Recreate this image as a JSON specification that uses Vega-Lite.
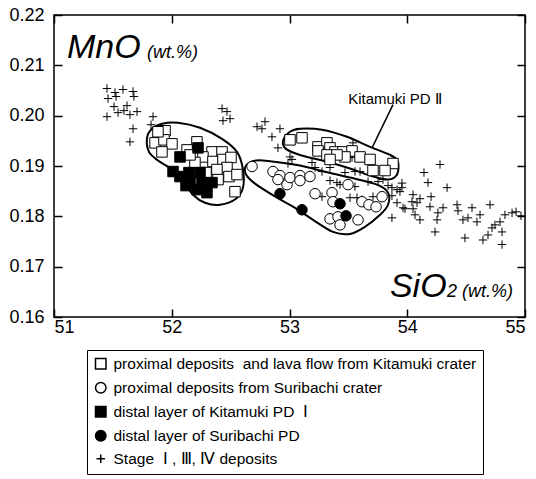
{
  "$schema": "https://vega.github.io/schema/vega-lite/v6.json",
  "width": 471,
  "height": 302,
  "autosize": {"type": "none"},
  "padding": {"left": 54, "top": 15, "right": 11, "bottom": 162},
  "background": "white",
  "config": {
    "view": {"stroke": "black", "strokeWidth": 1.5},
    "font": "Liberation Sans",
    "axis": {"grid": false, "domain": false, "tickColor": "black", "tickWidth": 1.5, "labelColor": "black", "labelFont": "Liberation Sans", "labelFontSize": 18, "title": null}
  },
  "resolve": {"axis": {"x": "independent", "y": "independent"}},
  "layer": [
    {
      "data": {"values": [
        {"g": "K", "i": 0, "x": 51.790, "y": 0.1956}, {"g": "K", "i": 1, "x": 51.832, "y": 0.1974}, {"g": "K", "i": 2, "x": 51.917, "y": 0.1984}, {"g": "K", "i": 3, "x": 52.053, "y": 0.1986}, {"g": "K", "i": 4, "x": 52.240, "y": 0.1976}, {"g": "K", "i": 5, "x": 52.427, "y": 0.1954}, {"g": "K", "i": 6, "x": 52.554, "y": 0.1928}, {"g": "K", "i": 7, "x": 52.605, "y": 0.1893}, {"g": "K", "i": 8, "x": 52.605, "y": 0.1857}, {"g": "K", "i": 9, "x": 52.546, "y": 0.1835}, {"g": "K", "i": 10, "x": 52.410, "y": 0.1823}, {"g": "K", "i": 11, "x": 52.282, "y": 0.1827}, {"g": "K", "i": 12, "x": 52.180, "y": 0.1843}, {"g": "K", "i": 13, "x": 52.096, "y": 0.1869}, {"g": "K", "i": 14, "x": 52.002, "y": 0.1893}, {"g": "K", "i": 15, "x": 51.883, "y": 0.1911}, {"g": "K", "i": 16, "x": 51.807, "y": 0.1928},
        {"g": "P", "i": 0, "x": 52.945, "y": 0.1950}, {"g": "P", "i": 1, "x": 53.004, "y": 0.1968}, {"g": "P", "i": 2, "x": 53.089, "y": 0.1974}, {"g": "P", "i": 3, "x": 53.276, "y": 0.1972}, {"g": "P", "i": 4, "x": 53.488, "y": 0.1958}, {"g": "P", "i": 5, "x": 53.684, "y": 0.1938}, {"g": "P", "i": 6, "x": 53.854, "y": 0.1922}, {"g": "P", "i": 7, "x": 53.921, "y": 0.1909}, {"g": "P", "i": 8, "x": 53.913, "y": 0.1883}, {"g": "P", "i": 9, "x": 53.837, "y": 0.1873}, {"g": "P", "i": 10, "x": 53.684, "y": 0.1881}, {"g": "P", "i": 11, "x": 53.514, "y": 0.1895}, {"g": "P", "i": 12, "x": 53.344, "y": 0.1907}, {"g": "P", "i": 13, "x": 53.089, "y": 0.1922}, {"g": "P", "i": 14, "x": 52.970, "y": 0.1934},
        {"g": "S", "i": 0, "x": 52.631, "y": 0.1901}, {"g": "S", "i": 1, "x": 52.716, "y": 0.1911}, {"g": "S", "i": 2, "x": 52.851, "y": 0.1909}, {"g": "S", "i": 3, "x": 53.089, "y": 0.1901}, {"g": "S", "i": 4, "x": 53.259, "y": 0.1891}, {"g": "S", "i": 5, "x": 53.514, "y": 0.1877}, {"g": "S", "i": 6, "x": 53.743, "y": 0.1863}, {"g": "S", "i": 7, "x": 53.837, "y": 0.1847}, {"g": "S", "i": 8, "x": 53.837, "y": 0.1823}, {"g": "S", "i": 9, "x": 53.769, "y": 0.1803}, {"g": "S", "i": 10, "x": 53.641, "y": 0.1779}, {"g": "S", "i": 11, "x": 53.514, "y": 0.1765}, {"g": "S", "i": 12, "x": 53.369, "y": 0.1769}, {"g": "S", "i": 13, "x": 53.200, "y": 0.1793}, {"g": "S", "i": 14, "x": 53.047, "y": 0.1817}, {"g": "S", "i": 15, "x": 52.894, "y": 0.1837}, {"g": "S", "i": 16, "x": 52.707, "y": 0.1865}, {"g": "S", "i": 17, "x": 52.631, "y": 0.1883}
      ]},
      "mark": {"type": "line", "interpolate": "cardinal-closed", "stroke": "black", "strokeWidth": 2},
      "encoding": {
        "x": {"field": "x", "type": "quantitative", "scale": {"domain": [51, 55], "nice": false, "zero": false}, "axis": {"orient": "top", "values": [51, 52, 53, 54, 55], "labels": false, "ticks": true, "tickSize": -8}},
        "y": {"field": "y", "type": "quantitative", "scale": {"domain": [0.16, 0.22], "nice": false, "zero": false}, "axis": {"orient": "right", "values": [0.16, 0.17, 0.18, 0.19, 0.2, 0.21, 0.22], "labels": false, "ticks": true, "tickSize": -8}},
        "detail": {"field": "g"},
        "order": {"field": "i", "type": "quantitative"}
      }
    },
    {
      "data": {"values": [{"x": 53.879, "y": 0.2022, "x2": 53.701, "y2": 0.1936}]},
      "mark": {"type": "rule", "stroke": "black", "strokeWidth": 1.5},
      "encoding": {
        "x": {"field": "x", "type": "quantitative", "axis": null},
        "y": {"field": "y", "type": "quantitative", "axis": null},
        "x2": {"field": "x2"},
        "y2": {"field": "y2"}
      }
    },
    {
      "data": {"values": [
        {"t": "St", "x": 51.450, "y": 0.2054}, {"t": "St", "x": 51.518, "y": 0.2046}, {"t": "St", "x": 51.586, "y": 0.2052}, {"t": "St", "x": 51.671, "y": 0.2048}, {"t": "St", "x": 51.459, "y": 0.2034}, {"t": "St", "x": 51.527, "y": 0.2038}, {"t": "St", "x": 51.679, "y": 0.2038}, {"t": "St", "x": 51.510, "y": 0.2018}, {"t": "St", "x": 51.620, "y": 0.2020}, {"t": "St", "x": 51.450, "y": 0.1998}, {"t": "St", "x": 51.544, "y": 0.2006}, {"t": "St", "x": 51.645, "y": 0.2002}, {"t": "St", "x": 51.705, "y": 0.2008}, {"t": "St", "x": 51.594, "y": 0.2010}, {"t": "St", "x": 51.841, "y": 0.1998}, {"t": "St", "x": 51.671, "y": 0.1974}, {"t": "St", "x": 51.824, "y": 0.1982}, {"t": "St", "x": 51.645, "y": 0.1948}, {"t": "St", "x": 52.427, "y": 0.2014}, {"t": "St", "x": 52.469, "y": 0.2008}, {"t": "St", "x": 52.435, "y": 0.1990}, {"t": "St", "x": 52.495, "y": 0.1994}, {"t": "St", "x": 52.724, "y": 0.1978},
        {"t": "St", "x": 52.792, "y": 0.1988}, {"t": "St", "x": 52.766, "y": 0.1974}, {"t": "St", "x": 52.851, "y": 0.1958}, {"t": "St", "x": 52.919, "y": 0.1974}, {"t": "St", "x": 52.902, "y": 0.1936}, {"t": "St", "x": 53.004, "y": 0.1918}, {"t": "St", "x": 53.021, "y": 0.1913}, {"t": "St", "x": 52.987, "y": 0.1905}, {"t": "St", "x": 53.191, "y": 0.1907}, {"t": "St", "x": 53.217, "y": 0.1897}, {"t": "St", "x": 53.276, "y": 0.1889}, {"t": "St", "x": 53.344, "y": 0.1897}, {"t": "St", "x": 53.344, "y": 0.1871}, {"t": "St", "x": 53.403, "y": 0.1867}, {"t": "St", "x": 53.429, "y": 0.1863}, {"t": "St", "x": 53.471, "y": 0.1887}, {"t": "St", "x": 53.531, "y": 0.1917}, {"t": "St", "x": 53.539, "y": 0.1946}, {"t": "St", "x": 53.556, "y": 0.1889}, {"t": "St", "x": 53.556, "y": 0.1859}, {"t": "St", "x": 53.514, "y": 0.1837}, {"t": "St", "x": 53.573, "y": 0.1837}, {"t": "St", "x": 53.616, "y": 0.1833}, {"t": "St", "x": 53.667, "y": 0.1869}, {"t": "St", "x": 53.709, "y": 0.1839}, {"t": "St", "x": 53.752, "y": 0.1869}, {"t": "St", "x": 53.794, "y": 0.1873}, {"t": "St", "x": 53.837, "y": 0.1861}, {"t": "St", "x": 53.870, "y": 0.1857}, {"t": "St", "x": 53.913, "y": 0.1853}, {"t": "St", "x": 53.955, "y": 0.1857}, {"t": "St", "x": 53.870, "y": 0.1841}, {"t": "St", "x": 53.913, "y": 0.1827}, {"t": "St", "x": 53.964, "y": 0.1817}, {"t": "St", "x": 53.870, "y": 0.1797}, {"t": "St", "x": 53.276, "y": 0.1839}, {"t": "St", "x": 53.599, "y": 0.1889},
        {"t": "St", "x": 54.278, "y": 0.1903}, {"t": "St", "x": 54.142, "y": 0.1887}, {"t": "St", "x": 54.176, "y": 0.1867}, {"t": "St", "x": 54.338, "y": 0.1857}, {"t": "St", "x": 53.955, "y": 0.1866}, {"t": "St", "x": 53.938, "y": 0.1849}, {"t": "St", "x": 54.049, "y": 0.1843}, {"t": "St", "x": 54.202, "y": 0.1839}, {"t": "St", "x": 54.108, "y": 0.1835}, {"t": "St", "x": 54.040, "y": 0.1829}, {"t": "St", "x": 54.083, "y": 0.1827}, {"t": "St", "x": 53.981, "y": 0.1815}, {"t": "St", "x": 54.049, "y": 0.1815}, {"t": "St", "x": 54.193, "y": 0.1819}, {"t": "St", "x": 54.261, "y": 0.1807}, {"t": "St", "x": 54.304, "y": 0.1817}, {"t": "St", "x": 54.066, "y": 0.1803}, {"t": "St", "x": 54.108, "y": 0.1793}, {"t": "St", "x": 54.253, "y": 0.1793}, {"t": "St", "x": 54.236, "y": 0.1769}, {"t": "St", "x": 54.423, "y": 0.1823}, {"t": "St", "x": 54.431, "y": 0.1811}, {"t": "St", "x": 54.550, "y": 0.1817}, {"t": "St", "x": 54.473, "y": 0.1793}, {"t": "St", "x": 54.516, "y": 0.1797}, {"t": "St", "x": 54.592, "y": 0.1789}, {"t": "St", "x": 54.618, "y": 0.1803}, {"t": "St", "x": 54.703, "y": 0.1823}, {"t": "St", "x": 54.490, "y": 0.1757}, {"t": "St", "x": 54.643, "y": 0.1753}, {"t": "St", "x": 54.686, "y": 0.1763}, {"t": "St", "x": 54.720, "y": 0.1777}, {"t": "St", "x": 54.745, "y": 0.1783}, {"t": "St", "x": 54.788, "y": 0.1789}, {"t": "St", "x": 54.830, "y": 0.1803}, {"t": "St", "x": 54.890, "y": 0.1807}, {"t": "St", "x": 54.805, "y": 0.1769}, {"t": "St", "x": 54.805, "y": 0.1744}, {"t": "St", "x": 54.924, "y": 0.1809}, {"t": "St", "x": 54.966, "y": 0.1801},
        {"t": "K", "x": 51.943, "y": 0.1970}, {"t": "K", "x": 51.858, "y": 0.1946}, {"t": "K", "x": 51.934, "y": 0.1952}, {"t": "K", "x": 52.002, "y": 0.1944}, {"t": "K", "x": 51.917, "y": 0.1928}, {"t": "K", "x": 52.214, "y": 0.1948}, {"t": "K", "x": 52.130, "y": 0.1932}, {"t": "K", "x": 52.342, "y": 0.1928}, {"t": "K", "x": 52.427, "y": 0.1928}, {"t": "K", "x": 52.265, "y": 0.1918}, {"t": "K", "x": 52.197, "y": 0.1907}, {"t": "K", "x": 52.350, "y": 0.1909}, {"t": "K", "x": 52.435, "y": 0.1913}, {"t": "K", "x": 52.503, "y": 0.1917}, {"t": "K", "x": 52.469, "y": 0.1897}, {"t": "K", "x": 52.384, "y": 0.1893}, {"t": "K", "x": 52.291, "y": 0.1887}, {"t": "K", "x": 52.486, "y": 0.1879}, {"t": "K", "x": 52.554, "y": 0.1883}, {"t": "K", "x": 52.393, "y": 0.1873}, {"t": "K", "x": 52.537, "y": 0.1849}, {"t": "K", "x": 52.155, "y": 0.1922}, {"t": "K", "x": 51.883, "y": 0.1968},
        {"t": "K", "x": 53.004, "y": 0.1952}, {"t": "K", "x": 53.106, "y": 0.1956}, {"t": "K", "x": 53.242, "y": 0.1938}, {"t": "K", "x": 53.318, "y": 0.1946}, {"t": "K", "x": 53.242, "y": 0.1930}, {"t": "K", "x": 53.344, "y": 0.1936}, {"t": "K", "x": 53.386, "y": 0.1928}, {"t": "K", "x": 53.318, "y": 0.1922}, {"t": "K", "x": 53.454, "y": 0.1928}, {"t": "K", "x": 53.531, "y": 0.1930}, {"t": "K", "x": 53.471, "y": 0.1918}, {"t": "K", "x": 53.599, "y": 0.1918}, {"t": "K", "x": 53.684, "y": 0.1913}, {"t": "K", "x": 53.403, "y": 0.1922}, {"t": "K", "x": 53.344, "y": 0.1913}, {"t": "K", "x": 53.879, "y": 0.1905}, {"t": "K", "x": 53.709, "y": 0.1891}, {"t": "K", "x": 53.811, "y": 0.1891},
        {"t": "S", "x": 52.682, "y": 0.1899}, {"t": "S", "x": 52.860, "y": 0.1889}, {"t": "S", "x": 52.919, "y": 0.1881}, {"t": "S", "x": 52.902, "y": 0.1873}, {"t": "S", "x": 52.979, "y": 0.1863}, {"t": "S", "x": 53.004, "y": 0.1877}, {"t": "S", "x": 53.089, "y": 0.1881}, {"t": "S", "x": 53.089, "y": 0.1871}, {"t": "S", "x": 53.174, "y": 0.1879}, {"t": "S", "x": 53.217, "y": 0.1845}, {"t": "S", "x": 53.361, "y": 0.1847}, {"t": "S", "x": 53.369, "y": 0.1829}, {"t": "S", "x": 53.497, "y": 0.1863}, {"t": "S", "x": 53.616, "y": 0.1829}, {"t": "S", "x": 53.675, "y": 0.1823}, {"t": "S", "x": 53.735, "y": 0.1819}, {"t": "S", "x": 53.786, "y": 0.1839}, {"t": "S", "x": 53.344, "y": 0.1795}, {"t": "S", "x": 53.412, "y": 0.1799}, {"t": "S", "x": 53.429, "y": 0.1783}, {"t": "S", "x": 53.582, "y": 0.1793},
        {"t": "KD", "x": 52.223, "y": 0.1936}, {"t": "KD", "x": 52.070, "y": 0.1918}, {"t": "KD", "x": 52.011, "y": 0.1889}, {"t": "KD", "x": 52.070, "y": 0.1879}, {"t": "KD", "x": 52.146, "y": 0.1887}, {"t": "KD", "x": 52.240, "y": 0.1887}, {"t": "KD", "x": 52.155, "y": 0.1869}, {"t": "KD", "x": 52.257, "y": 0.1867}, {"t": "KD", "x": 52.214, "y": 0.1853}, {"t": "KD", "x": 52.299, "y": 0.1847}, {"t": "KD", "x": 52.342, "y": 0.1867}, {"t": "KD", "x": 52.121, "y": 0.1861},
        {"t": "SD", "x": 52.919, "y": 0.1845}, {"t": "SD", "x": 53.106, "y": 0.1813}, {"t": "SD", "x": 53.429, "y": 0.1825}, {"t": "SD", "x": 53.480, "y": 0.1801}
      ]},
      "mark": {"type": "point", "filled": true, "stroke": "black", "strokeWidth": 1, "opacity": 1, "size": 110},
      "encoding": {
        "x": {"field": "x", "type": "quantitative", "axis": {"orient": "bottom", "values": [51, 52, 53, 54, 55], "format": "d", "ticks": true, "tickSize": -8, "labelPadding": 9}},
        "y": {"field": "y", "type": "quantitative", "axis": {"orient": "left", "values": [0.16, 0.17, 0.18, 0.19, 0.2, 0.21, 0.22], "format": ".2f", "ticks": true, "tickSize": -8, "labelPadding": 18}},
        "shape": {"field": "t", "type": "nominal", "scale": {"domain": ["K", "S", "KD", "SD", "St"], "range": ["square", "circle", "square", "circle", "M-0.8,0H0.8M0,-0.8V0.8"]}, "legend": {
          "orient": "none", "legendX": 33, "legendY": 335, "title": null, "strokeColor": "black", "padding": 6, "labelFontSize": 15.5, "labelFont": "Liberation Sans", "labelColor": "black", "symbolSize": 110, "rowPadding": 6, "labelOffset": 5, "labelLimit": 0,
          "encode": {"symbols": {"update": {"stroke": {"value": "black"}, "strokeWidth": {"value": 1}, "opacity": {"value": 1}}}},
          "labelExpr": "datum.value == 'K' ? 'proximal deposits \u00a0and lava flow from Kitamuki crater\u00a0\u00a0\u00a0\u00a0' : datum.value == 'S' ? 'proximal deposits from Suribachi crater' : datum.value == 'KD' ? 'distal layer of Kitamuki PD \u00a0Ⅰ' : datum.value == 'SD' ? 'distal layer of Suribachi PD' : 'Stage \u00a0Ⅰ , Ⅲ, Ⅳ deposits'"}},
        "fill": {"field": "t", "type": "nominal", "scale": {"domain": ["K", "S", "KD", "SD", "St"], "range": ["white", "white", "black", "black", "transparent"]}, "legend": {
          "orient": "none", "legendX": 33, "legendY": 335, "title": null, "strokeColor": "black", "padding": 6, "labelFontSize": 15.5, "labelFont": "Liberation Sans", "labelColor": "black", "symbolSize": 110, "rowPadding": 6, "labelOffset": 5, "labelLimit": 0,
          "encode": {"symbols": {"update": {"stroke": {"value": "black"}, "strokeWidth": {"value": 1}, "opacity": {"value": 1}}}},
          "labelExpr": "datum.value == 'K' ? 'proximal deposits \u00a0and lava flow from Kitamuki crater\u00a0\u00a0\u00a0\u00a0' : datum.value == 'S' ? 'proximal deposits from Suribachi crater' : datum.value == 'KD' ? 'distal layer of Kitamuki PD \u00a0Ⅰ' : datum.value == 'SD' ? 'distal layer of Suribachi PD' : 'Stage \u00a0Ⅰ , Ⅲ, Ⅳ deposits'"}}
      }
    },
    {
      "data": {"values": [{"x": 51.11, "y": 0.2115, "label": "MnO"}, {"x": 53.853, "y": 0.1640, "label": "SiO"}]},
      "mark": {"type": "text", "align": "left", "baseline": "alphabetic", "fontSize": 34, "fontStyle": "italic", "font": "Liberation Sans", "color": "black"},
      "encoding": {
        "x": {"field": "x", "type": "quantitative", "axis": null},
        "y": {"field": "y", "type": "quantitative", "axis": null},
        "text": {"field": "label"}
      }
    },
    {
      "data": {"values": [{"x": 51.790, "y": 0.2115, "label": "(wt.%)"}, {"x": 54.338, "y": 0.1640, "label": "2 (wt.%)"}]},
      "mark": {"type": "text", "align": "left", "baseline": "alphabetic", "fontSize": 18, "fontStyle": "italic", "font": "Liberation Sans", "color": "black"},
      "encoding": {
        "x": {"field": "x", "type": "quantitative", "axis": null},
        "y": {"field": "y", "type": "quantitative", "axis": null},
        "text": {"field": "label"}
      }
    },
    {
      "data": {"values": [{"x": 53.896, "y": 0.2024, "label": "Kitamuki PD Ⅱ"}]},
      "mark": {"type": "text", "align": "center", "baseline": "alphabetic", "fontSize": 15, "font": "Liberation Sans", "color": "black"},
      "encoding": {
        "x": {"field": "x", "type": "quantitative", "axis": null},
        "y": {"field": "y", "type": "quantitative", "axis": null},
        "text": {"field": "label"}
      }
    }
  ]
}
